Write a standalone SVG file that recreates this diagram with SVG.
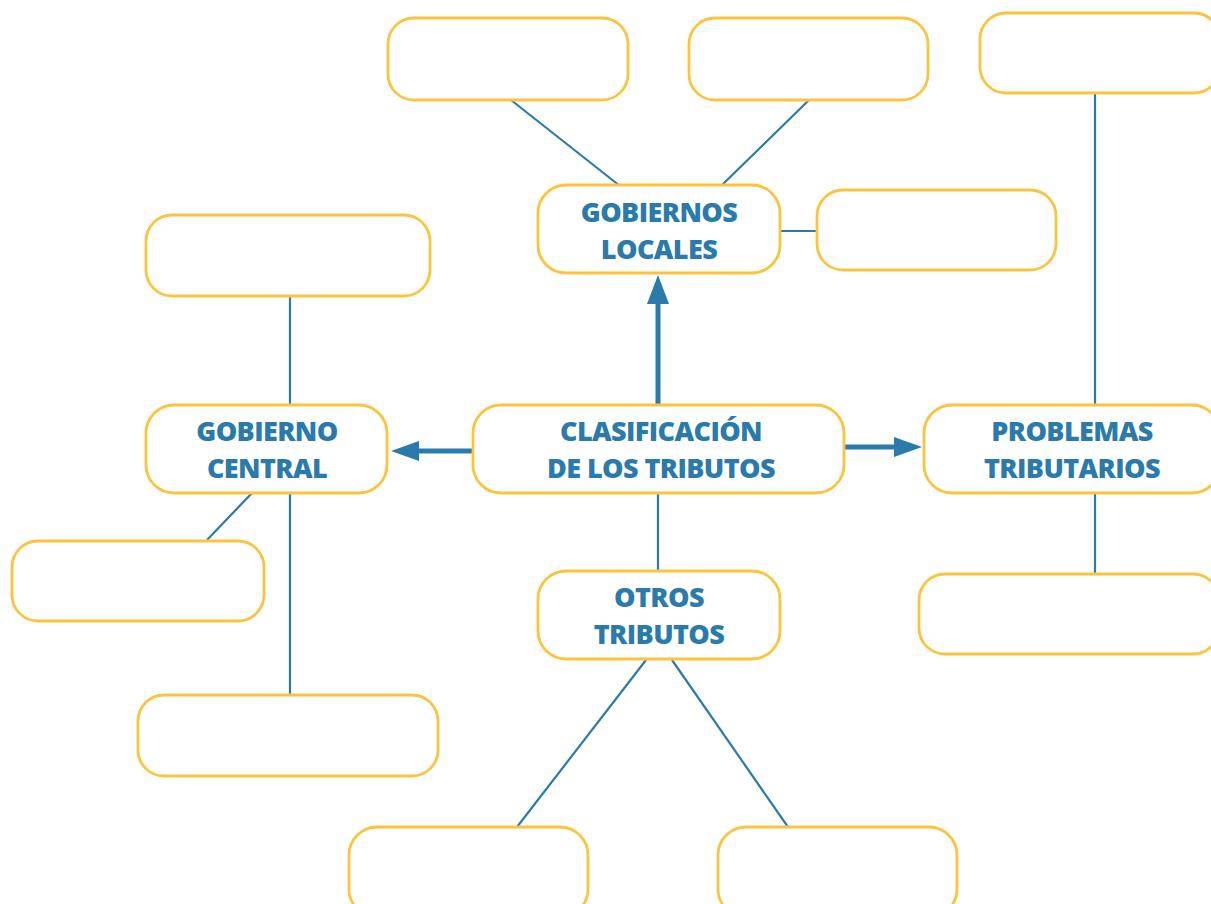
<svg xmlns="http://www.w3.org/2000/svg" width="1211" height="904" viewBox="0 0 1211 904">
<style>
.box{fill:#fff;stroke:#FCC43E;stroke-width:2.8}
.ln{stroke:#2A7BAB;stroke-width:2.2;fill:none}
.ar{stroke:#2A7BAB;stroke-width:5;fill:none}
.hd{fill:#2A7BAB}
.t{font-family:"Open Sans","Liberation Sans",sans-serif;font-weight:800;font-size:27px;letter-spacing:-0.6px;fill:#2A7BAB;text-anchor:middle}
</style>
<rect width="1211" height="904" fill="#fff"/>
<g id="connectors">
<line class="ln" x1="511" y1="100" x2="620" y2="186"/>
<line class="ln" x1="809" y1="100" x2="721" y2="186"/>
<line class="ln" x1="780" y1="231" x2="817" y2="231"/>
<line class="ln" x1="1095" y1="93" x2="1095" y2="405"/>
<line class="ln" x1="1095" y1="493" x2="1095" y2="574"/>
<line class="ln" x1="290" y1="296" x2="290" y2="405"/>
<line class="ln" x1="252" y1="493" x2="207" y2="540"/>
<line class="ln" x1="290" y1="493" x2="290" y2="698"/>
<line class="ln" x1="658" y1="493" x2="658" y2="571"/>
<line class="ln" x1="646" y1="660" x2="517" y2="827"/>
<line class="ln" x1="672" y1="660" x2="788" y2="827"/>
<line class="ar" x1="658" y1="404" x2="658" y2="300"/>
<polygon class="hd" points="658,275 647,304 669,304"/>
<line class="ar" x1="473" y1="451" x2="416" y2="451"/>
<polygon class="hd" points="391,451 419,441 419,461"/>
<line class="ar" x1="844" y1="447" x2="898" y2="447"/>
<polygon class="hd" points="922,447 894,437 894,457"/>
</g>
<g id="box-tl"><rect class="box" x="388" y="18" width="240" height="82" rx="26"/></g>
<g id="box-tm"><rect class="box" x="689" y="18" width="239" height="82" rx="26"/></g>
<g id="box-tr"><rect class="box" x="980" y="13" width="240" height="80" rx="26"/></g>
<g id="gobiernos-locales"><rect class="box" x="538" y="185" width="242" height="88" rx="28"/>
<text class="t" x="659" y="222">GOBIERNOS</text><text class="t" x="659" y="259">LOCALES</text></g>
<g id="box-gl-right"><rect class="box" x="817" y="190" width="239" height="80" rx="26"/></g>
<g id="box-l-top"><rect class="box" x="146" y="215" width="284" height="81" rx="26"/></g>
<g id="gobierno-central"><rect class="box" x="146" y="405" width="241" height="88" rx="28"/>
<text class="t" x="267" y="441">GOBIERNO</text><text class="t" x="267" y="478">CENTRAL</text></g>
<g id="clasificacion"><rect class="box" x="473" y="405" width="371" height="88" rx="28"/>
<text class="t" x="661" y="441">CLASIFICACIÓN</text><text class="t" x="661" y="478">DE LOS TRIBUTOS</text></g>
<g id="problemas"><rect class="box" x="924" y="405" width="296" height="88" rx="28"/>
<text class="t" x="1072" y="441">PROBLEMAS</text><text class="t" x="1072" y="478">TRIBUTARIOS</text></g>
<g id="box-l-mid"><rect class="box" x="12" y="541" width="252" height="80" rx="26"/></g>
<g id="otros"><rect class="box" x="538" y="571" width="242" height="88" rx="28"/>
<text class="t" x="659" y="607">OTROS</text><text class="t" x="659" y="644">TRIBUTOS</text></g>
<g id="box-pt-bottom"><rect class="box" x="919" y="574" width="300" height="80" rx="26"/></g>
<g id="box-l-bottom"><rect class="box" x="138" y="695" width="300" height="81" rx="26"/></g>
<g id="box-b-left"><rect class="box" x="349" y="827" width="239" height="90" rx="28"/></g>
<g id="box-b-right"><rect class="box" x="718" y="827" width="239" height="90" rx="28"/></g>
</svg>
